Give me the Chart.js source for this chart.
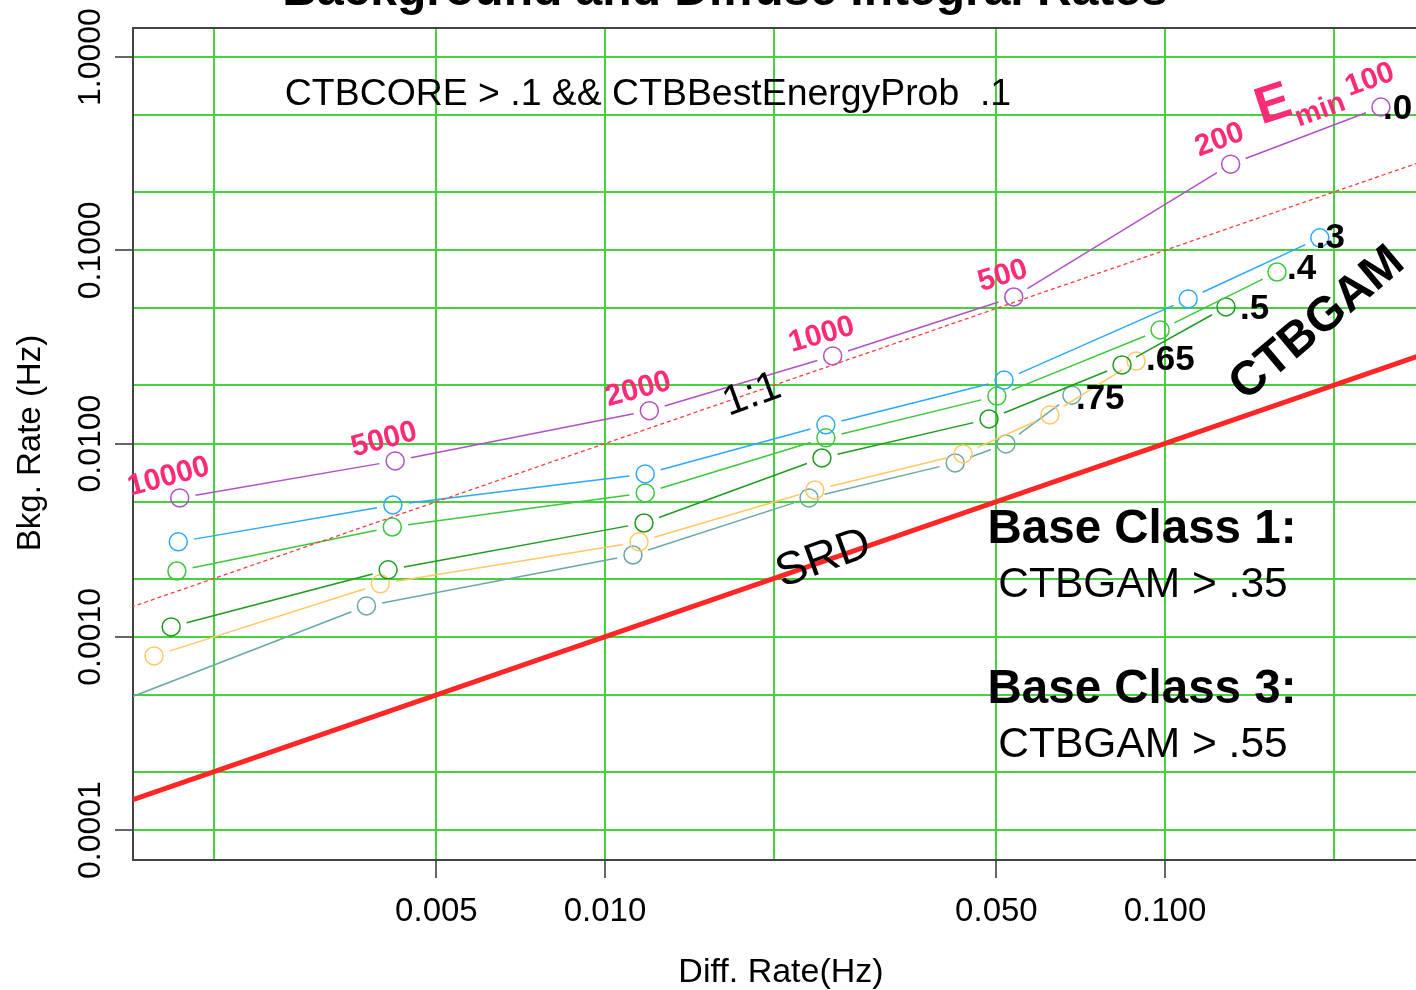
<!DOCTYPE html>
<html>
<head>
<meta charset="utf-8">
<script src="https://cdn.jsdelivr.net/npm/chart.js@4.4.1/dist/chart.umd.min.js"></script>
<style>
  html, body { margin: 0; padding: 0; background: #ffffff; overflow: hidden; }
  canvas { display: block; }
</style>
</head>
<body>
<canvas id="rates" width="1416" height="990"></canvas>
<script>
// Emin threshold that each point of every curve belongs to
const eminLabels = ['10000', '5000', '2000', '1000', '500', '200', '100'];
// CTBGAM cut of each curve
const cutLabels = ['.0', '.3', '.4', '.5', '.65', '.75'];

// Diffuse rate (x) and background rate (y), in Hz, per CTBGAM cut
const diff00 = [0.00174, 0.00422, 0.0120, 0.0255, 0.0537, 0.131, 0.243];
const bkg00  = [0.00523, 0.00813, 0.0148, 0.0284, 0.0573, 0.279, 0.551];
const diff30 = [0.00173, 0.00418, 0.0118, 0.0248, 0.0516, 0.110, 0.189];
const bkg30  = [0.00310, 0.00481, 0.00696, 0.0125, 0.0213, 0.0560, 0.116];
const diff40 = [0.00172, 0.00417, 0.0118, 0.0248, 0.0501, 0.0980, 0.1585];
const bkg40  = [0.00219, 0.00370, 0.00555, 0.0107, 0.0176, 0.0387, 0.0772];
const diff50 = [0.00168, 0.00410, 0.01174, 0.0244, 0.0485, 0.0838, 0.1285];
const bkg50  = [0.001125, 0.00222, 0.00388, 0.00842, 0.0134, 0.0255, 0.0509];
const diff65 = [0.001566, 0.00397, 0.0115, 0.0237, 0.0436, 0.0623, 0.0888];
const bkg65  = [0.000796, 0.00188, 0.00310, 0.00575, 0.00884, 0.01406, 0.0267];
const diff75 = [0.00130, 0.00375, 0.01122, 0.02314, 0.0422, 0.0520, 0.0682];
const bkg75  = [0.00044, 0.001445, 0.00265, 0.00523, 0.00794, 0.00995, 0.0178];

// Reference lines: 1:1 and the SRD requirement (bkg = diff / 10)
const oneToOneX = [0.001, 0.3];
const oneToOneY = [0.001, 0.3];
const srdX = [0.001, 0.3];
const srdY = [0.0001, 0.03];

// Axis grid and tick labels
const xGridValues = [0.002, 0.005, 0.01, 0.02, 0.05, 0.1, 0.2];
const xTickValues = [0.005, 0.01, 0.05, 0.1];
const xTickLabels = ['0.005', '0.010', '0.050', '0.100'];
const yGridValues = [0.0001, 0.0002, 0.0005, 0.001, 0.002, 0.005, 0.01, 0.02, 0.05, 0.1, 0.2, 0.5, 1];
const yTickValues = [0.0001, 0.001, 0.01, 0.1, 1];
const yTickLabels = ['0.0001', '0.0010', '0.0100', '0.1000', '1.0000'];

const FONT = "'Liberation Sans', Arial, Helvetica, sans-serif";
const PINK = '#ff2a78';
const MARKER_GAP = 16;

function pairs(xs, ys) { return xs.map((x, i) => ({ x, y: ys[i] })); }

// R-style "b" lines: leave a gap around every marker
function gapDash(ctx) {
  const L = Math.hypot(ctx.p1.x - ctx.p0.x, ctx.p1.y - ctx.p0.y);
  return L > 2 * MARKER_GAP ? [0, MARKER_GAP, L - 2 * MARKER_GAP, 100000] : [0, 100000];
}

function curve(xs, ys, color) {
  return {
    data: pairs(xs, ys),
    showLine: true,
    borderColor: color,
    borderWidth: 1.5,
    pointRadius: 9,
    pointHoverRadius: 9,
    pointBorderWidth: 1.5,
    pointBorderColor: color,
    pointBackgroundColor: 'rgba(0,0,0,0)',
    segment: { borderDash: gapDash }
  };
}

function findIndex(list, v) {
  return list.findIndex(t => Math.abs(Math.log10(t) - Math.log10(v)) < 1e-6);
}

function text(ctx, s, x, y, font, color, opts = {}) {
  ctx.save();
  ctx.translate(x, y);
  if (opts.rot) ctx.rotate(opts.rot * Math.PI / 180);
  ctx.font = font;
  ctx.fillStyle = color;
  ctx.textAlign = opts.align || 'center';
  ctx.textBaseline = opts.baseline || 'alphabetic';
  ctx.fillText(s, 0, 0);
  ctx.restore();
}

const annotations = {
  id: 'annotations',
  afterDraw(chart) {
    const ctx = chart.ctx;
    const area = chart.chartArea;
    const ys = chart.scales.y;

    // top edge of the plot frame
    ctx.save();
    ctx.strokeStyle = '#444444';
    ctx.lineWidth = 2;
    ctx.beginPath();
    ctx.moveTo(area.left, area.top);
    ctx.lineTo(area.right, area.top);
    ctx.stroke();
    ctx.restore();

    // title
    text(ctx, 'Background and Diffuse Integral Rates', 725, 5, 'bold 48px ' + FONT, '#000');

    // y tick labels, written upward
    yTickValues.forEach((v, i) => {
      text(ctx, yTickLabels[i], 100, ys.getPixelForValue(v), '32px ' + FONT, '#000', { rot: -90 });
    });

    // axis titles
    text(ctx, 'Bkg. Rate (Hz)', 40, 443, '33px ' + FONT, '#000', { rot: -90 });
    text(ctx, 'Diff. Rate(Hz)', 781, 982, '34px ' + FONT, '#000');

    // selection
    text(ctx, 'CTBCORE > .1 && CTBBestEnergyProb  .1', 648, 105, '37.4px ' + FONT, '#000');

    // Emin labels along the loosest curve
    const top = chart.getDatasetMeta(2).data;
    const pinkRot = [-15, -15, -15, -16, -17, -20, -20];
    const pinkLift = [0, 0, 0, 0, 0, 3, 6];
    eminLabels.forEach((lab, i) => {
      const p = top[i];
      text(ctx, lab, p.x - 11, p.y - 21 - pinkLift[i], 'bold 30px ' + FONT, PINK, { rot: pinkRot[i], baseline: 'middle' });
    });
    const last = top[top.length - 1];
    text(ctx, 'E', last.x - 103, last.y + 12, 'bold 52px ' + FONT, PINK, { rot: -18 });
    text(ctx, 'min', last.x - 58, last.y + 11, 'bold 29px ' + FONT, PINK, { rot: -20 });

    // CTBGAM cut labels at the end of each curve
    const cutShift = [[2, 0], [-4, -2], [10, -5], [14, 0], [10, -3], [4, 2]];
    cutLabels.forEach((lab, k) => {
      const pts = chart.getDatasetMeta(k + 2).data;
      const p = pts[pts.length - 1];
      text(ctx, lab, p.x + cutShift[k][0], p.y + cutShift[k][1] + 12, 'bold 35px ' + FONT, '#000', { align: 'left' });
    });

    // line names
    text(ctx, '1:1', 756, 406, '42px ' + FONT, '#000', { rot: -20 });
    text(ctx, 'SRD', 828, 571, '46px ' + FONT, '#000', { rot: -20 });
    text(ctx, 'CTBGAM', 1326, 334, 'bold 48px ' + FONT, '#000', { rot: -40 });

    // base class definitions
    text(ctx, 'Base Class 1:', 1142, 543, 'bold 47.5px ' + FONT, '#000');
    text(ctx, 'CTBGAM > .35', 1143, 597, '42.5px ' + FONT, '#000');
    text(ctx, 'Base Class 3:', 1142, 703, 'bold 47.5px ' + FONT, '#000');
    text(ctx, 'CTBGAM > .55', 1143, 757, '42.5px ' + FONT, '#000');
  }
};

new Chart(document.getElementById('rates'), {
  type: 'scatter',
  data: {
    datasets: [
      {
        data: pairs(srdX, srdY), showLine: true, borderColor: '#ff2626', borderWidth: 5,
        pointRadius: 0, pointHoverRadius: 0
      },
      {
        data: pairs(oneToOneX, oneToOneY), showLine: true, borderColor: '#ff3b3b', borderWidth: 1.3,
        borderDash: [4, 3], pointRadius: 0, pointHoverRadius: 0
      },
      curve(diff00, bkg00, '#b150c6'),
      curve(diff30, bkg30, '#2aa8ff'),
      curve(diff40, bkg40, '#3cc83c'),
      curve(diff50, bkg50, '#1e9a1e'),
      curve(diff65, bkg65, '#ffc864'),
      curve(diff75, bkg75, '#6aa8a8')
    ]
  },
  options: {
    responsive: false,
    animation: false,
    events: [],
    layout: { autoPadding: false, padding: { top: 28, left: 0, right: 0, bottom: 0 } },
    plugins: { legend: { display: false }, tooltip: { enabled: false }, title: { display: false } },
    scales: {
      x: {
        type: 'logarithmic',
        min: 0.001436,
        max: 0.2807,
        afterBuildTicks: s => { s.ticks = xGridValues.map(v => ({ value: v })); },
        afterFit: s => { s.height = 130; },
        grid: {
          color: '#46d23a',
          lineWidth: 2,
          tickLength: 18,
          tickWidth: 1.5,
          tickColor: c => (c.tick && findIndex(xTickValues, c.tick.value) >= 0) ? '#333333' : 'rgba(0,0,0,0)'
        },
        border: { display: true, color: '#444444', width: 2 },
        ticks: {
          autoSkip: false,
          maxRotation: 0,
          minRotation: 0,
          padding: 14,
          color: '#000',
          font: { family: FONT, size: 33 },
          callback: v => { const i = findIndex(xTickValues, v); return i >= 0 ? xTickLabels[i] : ''; }
        }
      },
      y: {
        type: 'logarithmic',
        min: 7.0e-5,
        max: 1.413,
        afterBuildTicks: s => { s.ticks = yGridValues.map(v => ({ value: v })); },
        afterFit: s => { s.width = 133; },
        grid: {
          color: '#46d23a',
          lineWidth: 2,
          tickLength: 18,
          tickWidth: 1.5,
          tickColor: c => (c.tick && findIndex(yTickValues, c.tick.value) >= 0) ? '#333333' : 'rgba(0,0,0,0)'
        },
        border: { display: true, color: '#444444', width: 2 },
        ticks: { display: false, autoSkip: false }
      }
    }
  },
  plugins: [annotations]
});
</script>
</body>
</html>
